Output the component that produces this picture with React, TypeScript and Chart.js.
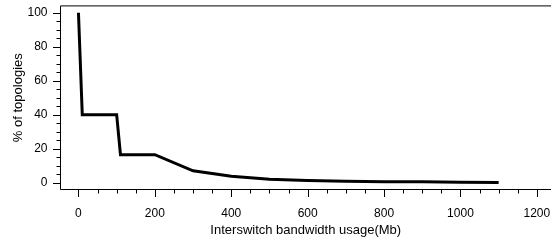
import React, { useEffect, useRef } from "react";
import { Chart, registerables } from "chart.js";

Chart.register(...registerables);

// Data
const bandwidthMb = [0, 10, 100, 110, 200, 300, 400, 500, 600, 700, 800, 900, 1000, 1100];
const pctTopologies = [100, 40, 40, 16.5, 16.5, 7, 3.8, 2, 1.3, 0.9, 0.6, 0.5, 0.3, 0.1];

const xTickLabels = [0, 200, 400, 600, 800, 1000, 1200];
const yTickLabels = [0, 20, 40, 60, 80, 100];
const xMinorStep = 50;
const yMinorStep = 5;

const FONT = "'Liberation Sans', Arial, Helvetica, sans-serif";

const rAxesPlugin = {
  id: "rAxes",
  afterDraw(chart: any) {
    const { ctx, chartArea, scales } = chart;
    const xs = scales.x;
    const ys = scales.y;
    ctx.save();
    ctx.strokeStyle = "#000";
    ctx.lineWidth = 1;
    // box (left, top, bottom)
    ctx.beginPath();
    ctx.moveTo(chart.width, chartArea.top);
    ctx.lineTo(chartArea.left, chartArea.top);
    ctx.lineTo(chartArea.left, chartArea.bottom);
    ctx.lineTo(chart.width, chartArea.bottom);
    ctx.stroke();
    // y ticks
    ctx.beginPath();
    const yMax = yTickLabels[yTickLabels.length - 1];
    for (let v = yTickLabels[0]; v <= yMax; v += yMinorStep) {
      const py = Math.round(ys.getPixelForValue(v)) + 0.5;
      const len = yTickLabels.includes(v) ? 7.5 : 4;
      ctx.moveTo(chartArea.left - len, py);
      ctx.lineTo(chartArea.left, py);
    }
    // x ticks
    const xMax = xTickLabels[xTickLabels.length - 1];
    for (let v = xTickLabels[0]; v <= xMax; v += xMinorStep) {
      const px = Math.round(xs.getPixelForValue(v)) + 0.5;
      const len = xTickLabels.includes(v) ? 7.5 : 4;
      ctx.moveTo(px, chartArea.bottom);
      ctx.lineTo(px, chartArea.bottom + len);
    }
    ctx.stroke();
    ctx.restore();
  },
};

export default function App() {
  const canvasRef = useRef<HTMLCanvasElement | null>(null);

  useEffect(() => {
    document.body.style.margin = "0";
    const canvas = canvasRef.current;
    if (!canvas) return;
    const chart = new Chart(canvas, {
      type: "line",
      data: {
        datasets: [
          {
            data: bandwidthMb.map((x, i) => ({ x, y: pctTopologies[i] })),
            borderColor: "#000",
            borderWidth: 3,
            pointRadius: 0,
            tension: 0,
            fill: false,
          },
        ],
      },
      plugins: [rAxesPlugin],
      options: {
        animation: false,
        responsive: false,
        devicePixelRatio: 1,
        layout: { padding: { top: 5.9, left: 0, right: 0, bottom: 0 } },
        plugins: { legend: { display: false }, tooltip: { enabled: false } },
        scales: {
          x: {
            type: "linear",
            position: "bottom",
            min: -47,
            max: 1237,
            border: { display: false },
            grid: { display: false, drawTicks: false },
            afterBuildTicks: (s: any) => {
              s.ticks = xTickLabels.map((v) => ({ value: v }));
            },
            afterFit: (s: any) => {
              s.height = 51.5;
              s.paddingLeft = 0;
              s.paddingRight = 0;
            },
            ticks: {
              autoSkip: false,
              maxRotation: 0,
              padding: 17,
              color: "#000",
              font: { family: FONT, size: 12 },
              callback: (v: any) => String(v),
            },
            title: {
              display: true,
              text: "Interswitch bandwidth usage(Mb)",
              color: "#000",
              font: { family: FONT, size: 13 },
              padding: { top: 0, bottom: 3 },
            },
          },
          y: {
            type: "linear",
            position: "left",
            min: -4,
            max: 104,
            border: { display: false },
            grid: { display: false, drawTicks: false },
            afterBuildTicks: (s: any) => {
              s.ticks = yTickLabels.map((v) => ({ value: v }));
            },
            afterFit: (s: any) => {
              s.width = 60.5;
              s.paddingTop = 0;
              s.paddingBottom = 0;
            },
            ticks: {
              padding: 13,
              color: "#000",
              font: { family: FONT, size: 12 },
              callback: (v: any) => String(v),
            },
            title: {
              display: true,
              text: "% of topologies",
              color: "#000",
              font: { family: FONT, size: 13 },
              padding: { top: 11, bottom: 0 },
            },
          },
        },
      },
    });
    return () => chart.destroy();
  }, []);

  return (
    <div style={{ position: "fixed", left: 0, top: 0, width: 551, height: 241 }}>
      <canvas ref={canvasRef} width={551} height={241} style={{ display: "block" }} />
    </div>
  );
}
